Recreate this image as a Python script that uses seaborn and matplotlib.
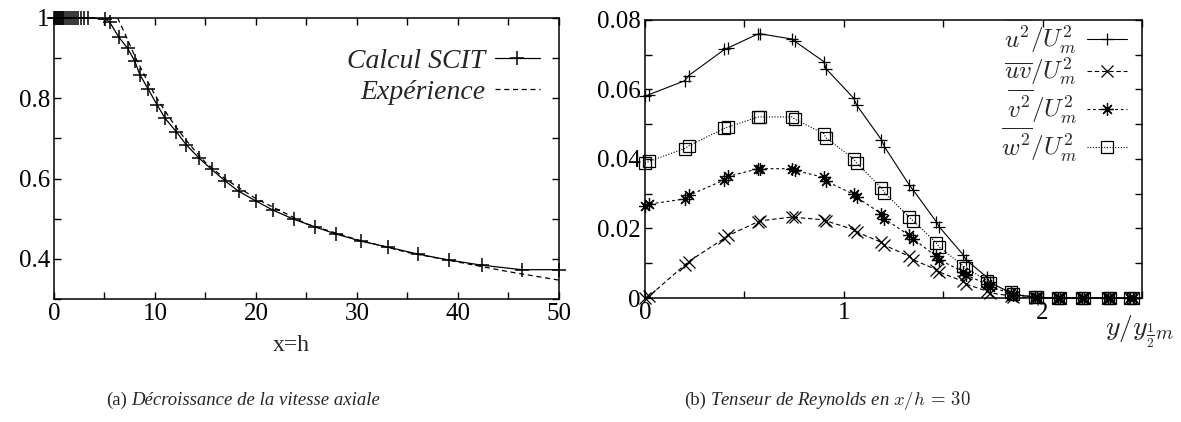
# Two panels: axial velocity decay (a) and Reynolds stresses at x/h = 30 (b)
import numpy as np
import pandas as pd
import seaborn as sns
import matplotlib.pyplot as plt
from matplotlib.ticker import MultipleLocator, FormatStrFormatter

# ---------------------------------------------------------------------------
# (a) axial velocity decay

scit_x = [0, 0.1, 0.2, 0.3, 0.4, 0.5, 0.6, 0.7, 0.8, 0.9, 1.0, 1.2, 1.4, 1.6,
          1.8, 2.0, 2.2, 2.4, 2.7, 3.0, 3.4,
          5.1, 5.5, 6.4, 7.3, 8.0, 8.5, 9.3, 10.2, 11.0, 12.1, 13.1, 14.4,
          15.6, 16.9, 18.3, 20.0, 21.7, 23.8, 25.8, 27.9, 30.4, 33.1, 36.0,
          39.1, 42.4, 46.3, 50.0]
scit_u = [1.0] * 21 + [
          0.997, 0.99, 0.953, 0.924, 0.892, 0.859, 0.824, 0.784, 0.75, 0.717,
          0.684, 0.65, 0.623, 0.595, 0.568, 0.544, 0.521, 0.498, 0.48, 0.462,
          0.444, 0.429, 0.412, 0.397, 0.384, 0.373, 0.373]

exp_x = [6.3, 7.0, 8.0, 9.0, 10.0, 11.0, 12.0, 13.0, 14.0, 15.0, 17.0, 20.0,
         25.0, 30.0, 35.0, 40.0, 45.0, 50.0]
exp_u = [1.0, 0.962, 0.905, 0.855, 0.808, 0.768, 0.731, 0.698, 0.668, 0.64,
         0.598, 0.55, 0.487, 0.448, 0.416, 0.392, 0.368, 0.347]

# ---------------------------------------------------------------------------
# (b) Reynolds stresses

y_pos = [0.00, 0.02, 0.20, 0.22, 0.40, 0.42, 0.57, 0.58, 0.74, 0.755, 0.90,
         0.91, 1.05, 1.065, 1.19, 1.205, 1.33, 1.35, 1.465, 1.48, 1.60, 1.615,
         1.72, 1.735, 1.84, 1.85, 1.96, 1.97, 2.08, 2.09, 2.20, 2.21, 2.33,
         2.34, 2.44, 2.455]
uu = [0.058, 0.0585, 0.0625, 0.064, 0.0715, 0.072, 0.076, 0.076, 0.0745,
      0.0738, 0.068, 0.066, 0.0575, 0.0555, 0.0455, 0.0435, 0.0325, 0.031,
      0.022, 0.0205, 0.0125, 0.011, 0.006, 0.0045, 0.0015, 0.001, 0.0003,
      0.0002, 0, 0, 0, 0, 0, 0, 0, 0]
uv = [0.0, 0.0005, 0.0095, 0.0105, 0.0172, 0.018, 0.022, 0.0222, 0.0233,
      0.0232, 0.0225, 0.0222, 0.0197, 0.019, 0.016, 0.0152, 0.012, 0.011,
      0.0082, 0.0075, 0.0048, 0.004, 0.002, 0.0015, 0.0006, 0.0004, 0.0001,
      0, 0, 0, 0, 0, 0, 0, 0, 0]
vv = [0.0265, 0.027, 0.0285, 0.0295, 0.034, 0.035, 0.0372, 0.0372, 0.0372,
      0.0367, 0.0347, 0.0337, 0.0298, 0.029, 0.0242, 0.0228, 0.018, 0.017,
      0.012, 0.011, 0.0076, 0.0066, 0.004, 0.0032, 0.0014, 0.001, 0.0003,
      0.0002, 0, 0, 0, 0, 0, 0, 0, 0]
ww = [0.0388, 0.0393, 0.043, 0.0438, 0.0488, 0.0492, 0.0521, 0.0521, 0.0521,
      0.0514, 0.0473, 0.0461, 0.04, 0.0388, 0.0317, 0.0303, 0.0232, 0.0222,
      0.0159, 0.0147, 0.0093, 0.0087, 0.005, 0.0043, 0.0016, 0.0012, 0.0003,
      0.0002, 0, 0, 0, 0, 0, 0, 0, 0]

# ---------------------------------------------------------------------------

sns.set_style("ticks")
plt.rcParams['font.family'] = ['Liberation Serif', 'DejaVu Serif']
plt.rcParams['mathtext.fontset'] = 'cm'
plt.rcParams['font.size'] = 17

fig = plt.figure(figsize=(11.81, 4.22), dpi=100)
ax1 = fig.add_axes([0.0457, 0.2915, 0.4276, 0.666])
ax2 = fig.add_axes([0.5461, 0.2938, 0.4208, 0.659])

for ax in (ax1, ax2):
    ax.tick_params(which='both', direction='in', top=True, right=True,
                   length=5, width=1, labelsize=18, colors='black', pad=3)
    for s in ax.spines.values():
        s.set_linewidth(1.1)
        s.set_color('black')

# panel (a)
sns.lineplot(x=scit_x, y=scit_u, ax=ax1, sort=False, color='black', lw=0.9,
             marker='+', markersize=10, markeredgewidth=1.1,
             markeredgecolor='black', clip_on=False, label='Calcul SCIT')
sns.lineplot(x=exp_x, y=exp_u, ax=ax1, sort=False, color='black', lw=0.9,
             linestyle=(0, (4, 3)), label='Expérience')
ax1.set_xlim(0, 50)
ax1.set_ylim(0.3, 1.0)
ax1.xaxis.set_major_locator(MultipleLocator(10))
ax1.xaxis.set_minor_locator(MultipleLocator(5))
ax1.yaxis.set_minor_locator(MultipleLocator(0.1))
ax1.set_yticks([0.4, 0.6, 0.8, 1.0])
ax1.set_yticklabels(['0.4', '0.6', '0.8', '1'])
ax1.xaxis.set_major_formatter(FormatStrFormatter('%g'))
ax1.set_xlabel('')
ax1.text(0.47, -0.165, 'x=h', transform=ax1.transAxes, ha='center',
         va='center', fontsize=17)
ax1.legend(loc='upper right', bbox_to_anchor=(1.0, 0.96), frameon=False,
           markerfirst=False, handlelength=1.6, labelspacing=0.2,
           handletextpad=0.35, borderaxespad=0.3,
           prop={'style': 'italic', 'size': 20})

# panel (b)
series = [
    (uu, r'$\overline{u^2}/U_m^2$', '+', '-', 9),
    (uv, r'$\overline{uv}/U_m^2$', 'x', (0, (4, 2.5)), 8),
    (vv, r'$\overline{v^2}/U_m^2$', (8, 2, 0), (0, (2.5, 2.5)), 9),
    (ww, r'$\overline{w^2}/U_m^2$', 's', (0, (1, 1.5)), 8),
]
for vals, lab, mk, ls, ms in series:
    sns.lineplot(x=y_pos, y=vals, ax=ax2, sort=False, color='black', lw=0.8,
                 linestyle=ls, marker=mk, markersize=ms, markeredgewidth=0.9,
                 markerfacecolor='none', markeredgecolor='black',
                 clip_on=False, label=lab)
ax2.set_xlim(0, 2.5)
ax2.set_ylim(0, 0.08)
ax2.xaxis.set_major_locator(MultipleLocator(1))
ax2.xaxis.set_minor_locator(MultipleLocator(0.5))
ax2.yaxis.set_major_locator(MultipleLocator(0.02))
ax2.yaxis.set_minor_locator(MultipleLocator(0.01))
ax2.xaxis.set_major_formatter(FormatStrFormatter('%g'))
ax2.yaxis.set_major_formatter(FormatStrFormatter('%g'))
ax2.set_xlabel('')
ax2.text(0.995, -0.12, r'$y/y_{\frac{1}{2}m}$', transform=ax2.transAxes,
         ha='center', va='center', fontsize=20)
ax2.legend(loc='upper right', bbox_to_anchor=(1.0, 1.06), frameon=False,
           markerfirst=False, handlelength=1.6, labelspacing=0.0,
           handletextpad=0.4, borderaxespad=0.2, prop={'size': 18})

# captions
fig.text(127 / 1181, 0.052, '(a)', ha='right', va='center', fontsize=13.5)
fig.text(131 / 1181, 0.052, 'Décroissance de la vitesse axiale', ha='left',
         va='center', fontsize=13.5, style='italic')
fig.text(706 / 1181, 0.052, '(b)', ha='right', va='center', fontsize=13.5)
fig.text(710 / 1181, 0.052, r'Tenseur de Reynolds en $x/h\,=\,30$',
         ha='left', va='center', fontsize=13.5, style='italic')

fig.savefig('out.png', dpi=100)
